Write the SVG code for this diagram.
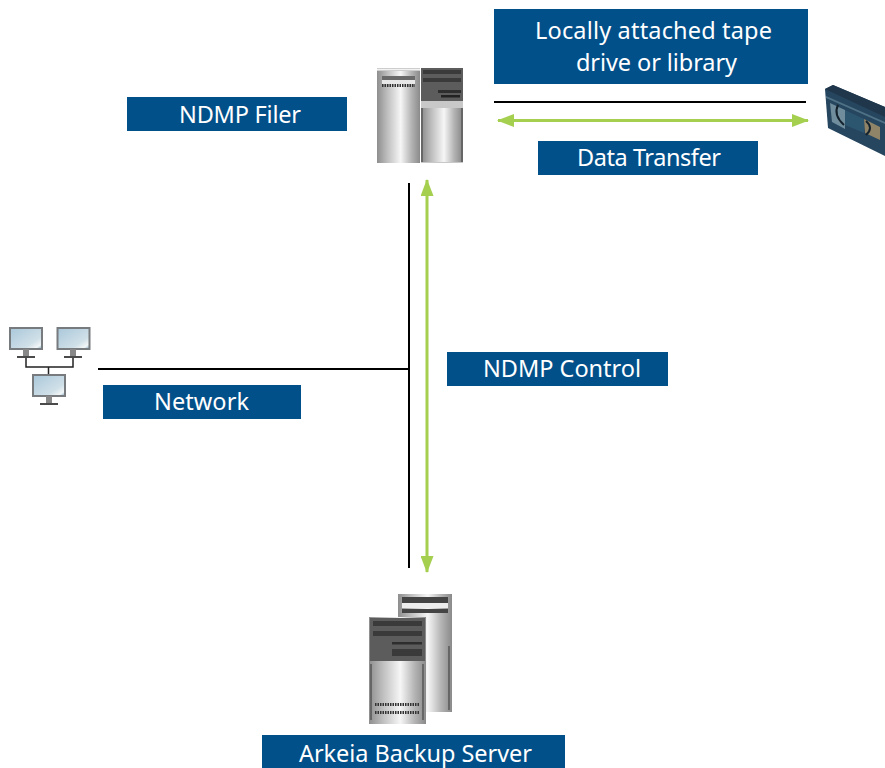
<svg xmlns="http://www.w3.org/2000/svg" width="885" height="768" viewBox="0 0 885 768">
<style>
.lb{fill:#02508a}
.t{font-family:"Noto Sans","Open Sans",sans-serif;font-size:23.5px;fill:#fff}
.k{stroke:#000;stroke-width:2;fill:none}
.g{stroke:#a5cf4f;stroke-width:3;fill:none;marker-start:url(#ah);marker-end:url(#ah)}
.sc{fill:url(#scr);stroke:#777b7d;stroke-width:2}
.st{fill:#4a4a4a}
.d{fill:#3a3a3a}
.dots{stroke:#333;stroke-width:3;stroke-dasharray:1.500 1;fill:none}
</style>
<defs>
<marker id="ah" viewBox="0 0 17 13" refX="16" refY="6.500" markerWidth="17" markerHeight="13" markerUnits="userSpaceOnUse" orient="auto-start-reverse"><path d="M0 0L17 6.500L0 13Z" fill="#a5cf4f"/></marker>
<linearGradient id="m"><stop offset="0" stop-color="#8e8e8e"/><stop offset=".25" stop-color="#c0c0c0"/><stop offset=".55" stop-color="#f6f6f6"/><stop offset=".8" stop-color="#b4b4b4"/><stop offset="1" stop-color="#8a8a8a"/></linearGradient>
<linearGradient id="scr" x1="0" y1="0" x2="1" y2="1"><stop offset="0" stop-color="#a9c7da"/><stop offset=".7" stop-color="#d0e0e8"/><stop offset=".88" stop-color="#f2f6f7"/><stop offset="1" stop-color="#6fa0bf"/></linearGradient>
<linearGradient id="sh" x1="0" y1="0" x2="0" y2="1"><stop offset="0" stop-color="#bbb"/><stop offset=".5" stop-color="#f2f2f2"/><stop offset="1" stop-color="#bbb"/></linearGradient>
</defs>
<g id="connectors">
<path class="k" d="M409 183V568M98 369H409M494 102H806"/>
<path class="g" d="M498 120.500H808"/>
<path class="g" d="M427 180V572"/>
</g>
<g id="filer">
<rect x="377" y="68" width="43" height="95" fill="url(#m)"/>
<rect x="377" y="68" width="43" height="3" fill="url(#sh)"/>
<rect x="382" y="76" width="33" height="4" fill="#6a6a6a"/>
<rect x="382" y="80" width="33" height="4" fill="#e8e8e8"/>
<path class="dots" d="M382 85.500H415"/>
<rect x="421" y="68" width="42" height="95" fill="#c8c8c8"/>
<rect x="421" y="68" width="42" height="33" fill="#5c5c5c"/>
<rect x="423" y="70" width="38" height="4" class="d"/>
<rect x="423" y="78" width="38" height="4" class="d"/>
<rect x="438" y="90" width="23" height="3" fill="#2e2e2e"/>
<rect x="441" y="95" width="19" height="2.500" fill="#222"/>
<rect x="422" y="108" width="40" height="54" fill="url(#m)"/>
<rect x="421" y="108" width="2" height="54" fill="#666"/>
<rect x="461" y="108" width="2" height="54" fill="#666"/>
</g>
<g id="tape">
<path d="M825 89L833 85L885 107V156L828 128Z" fill="#26455e"/>
<path d="M825 89L833 85L885 107V117Z" fill="#20364a"/>
<path d="M826 96L885 122V124L826 98Z" fill="#4f7186"/>
<path d="M830 103L845 110V129L832 122Z" fill="#6f8d9c"/>
<path d="M845 110L864 119V133L845 125Z" fill="#2c5570"/>
<path d="M864 119L880 127V140L865 133Z" fill="#8f8468"/>
<path d="M838 105Q833 115 844 125" stroke="#14222e" stroke-width="2" fill="none"/>
<path d="M866 121Q874 128 866 135" stroke="#14222e" stroke-width="2" fill="none"/>
</g>
<g id="network">
<path d="M26 348V367H73V348M48.500 367V374" stroke="#222" stroke-width="1.500" fill="none"/>
<rect x="10" y="328" width="32" height="21" class="sc"/>
<rect x="57.500" y="328" width="32" height="21" class="sc"/>
<rect x="33" y="375" width="32" height="21" class="sc"/>
<path d="M23 349h6v7h-6zM70 349h6v7h-6zM46 396h6v7h-6z" fill="#888"/>
<path d="M17 356h18v2h-18zM64 356h18v2h-18zM40 403h18v2h-18z" class="st"/>
</g>
<g id="backup">
<rect x="398" y="594" width="54" height="118" fill="url(#m)"/>
<rect x="402" y="597" width="46" height="6" fill="#444"/>
<rect x="402" y="603" width="46" height="5" fill="#ededed"/>
<rect x="402" y="609" width="46" height="4" fill="#444"/>
<rect x="448" y="646" width="2" height="64" fill="#666"/>
<rect x="369" y="617" width="57" height="107" fill="url(#m)"/>
<rect x="370" y="618" width="55" height="43" fill="#5c5c5c"/>
<rect x="373" y="621" width="49" height="5" class="d"/>
<rect x="373" y="631" width="49" height="5" class="d"/>
<rect x="392" y="642" width="30" height="2.500" fill="#2e2e2e"/>
<rect x="392" y="649" width="30" height="7" fill="#3a3a3a"/>
<rect x="370" y="664" width="2" height="56" fill="#666"/>
<rect x="422" y="664" width="2" height="56" fill="#666"/>
<path class="dots" d="M375 704.500H420M375 712.500H420"/>
</g>
<g id="label-filer"><rect class="lb" x="127" y="97" width="220" height="34"/><text class="t" x="179" y="123" textLength="122">NDMP Filer</text></g>
<g id="label-tape"><rect class="lb" x="494" y="9" width="314" height="75"/><text class="t" x="535" y="39" textLength="237">Locally attached tape</text><text class="t" x="576" y="71" textLength="161">drive or library</text></g>
<g id="label-transfer"><rect class="lb" x="538" y="141" width="220" height="34"/><text class="t" x="577" y="166" textLength="144">Data Transfer</text></g>
<g id="label-control"><rect class="lb" x="447" y="352" width="221" height="34"/><text class="t" x="483" y="377" textLength="158">NDMP Control</text></g>
<g id="label-network"><rect class="lb" x="103" y="385" width="198" height="34"/><text class="t" x="154" y="410" textLength="95">Network</text></g>
<g id="label-arkeia"><rect class="lb" x="262" y="735" width="303" height="33"/><text class="t" x="299" y="761.500" textLength="233">Arkeia Backup Server</text></g>
</svg>
